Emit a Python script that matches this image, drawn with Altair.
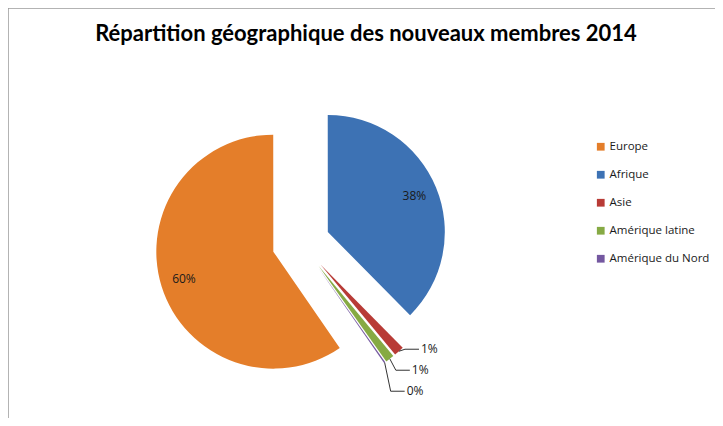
import altair as alt
import pandas as pd

# ---- data ----
regions = ["Europe", "Afrique", "Asie", "Amérique latine", "Amérique du Nord"]
shares = [59.6, 37.6, 1.4, 1.2, 0.2]
colors = ["#E47E2A", "#3D72B4", "#B83B36", "#86AA44", "#7458A0"]
title_text = "Répartition géographique des nouveaux membres 2014"

# ---- layout / style constants ----
W, H = 707, 410
CX, CY = 293, 235          # pie centre (px)
R = 117                    # pie radius
D = 29                     # explosion distance
LR = 0.8 * R               # inner label radius
START = 145.4 * 3.141592653589793 / 180  # first-slice angle (rad)
FONT = "Open Sans"

df = pd.DataFrame({"region": regions, "value": shares, "idx": list(range(len(regions)))})

base = (
    alt.Chart(df)
    .transform_joinaggregate(total="sum(value)")
    .transform_window(cum="sum(value)", sort=[alt.SortField("idx")], frame=[None, 0])
    .transform_calculate(
        t1=f"{START} + 2*PI*datum.cum/datum.total",
    )
    .transform_calculate(
        t0="datum.t1 - 2*PI*datum.value/datum.total",
        pct="format(datum.value/datum.total, '.0%')",
    )
    .transform_calculate(tm="(datum.t0 + datum.t1)/2")
    .transform_calculate(
        cx=f"{CX} + {D}*sin(datum.tm)",
        cy=f"{CY} - {D}*cos(datum.tm)",
    )
    .transform_calculate(
        lx=f"datum.cx + {LR}*sin(datum.tm)",
        ly=f"datum.cy - {LR}*cos(datum.tm)",
        p0x=f"datum.cx + {R}*sin(datum.tm)",
        p0y=f"datum.cy - {R}*cos(datum.tm)",
    )
)

color_enc = alt.Color(
    "region:N",
    scale=alt.Scale(domain=regions, range=colors),
    sort=regions,
    legend=alt.Legend(
        orient="none", legendX=587, legendY=133, title=None,
        symbolType="square", symbolSize=60, symbolStrokeWidth=0,
        labelFont=FONT, labelFontSize=11.5, labelColor="#1a1a1a",
        rowPadding=15, labelOffset=3,
    ),
)

arcs = base.mark_arc(radius=R, stroke=None).encode(
    theta=alt.Theta("t0:Q", scale=None, stack=False),
    theta2="t1:Q",
    x=alt.X("cx:Q", scale=None),
    y=alt.Y("cy:Q", scale=None),
    color=color_enc,
)

inner = base.transform_filter("datum.value >= 5").mark_text(
    font=FONT, fontSize=12, color="#1a1a1a"
).encode(
    x=alt.X("lx:Q", scale=None),
    y=alt.Y("ly:Q", scale=None),
    text="pct:N",
)

small = (
    base.transform_filter("datum.value < 5")
    .transform_window(rk="row_number()", sort=[alt.SortField("idx")])
    .transform_joinaggregate(miny="min(p0y)")
    .transform_calculate(
        ty="datum.miny - 2 + (datum.rk - 1)*21",
        tx="datum.p0x + 22",
    )
    .transform_calculate(ex="datum.p0x + 6", endx="datum.tx - 2")
)

lead1 = small.mark_rule(color="#333333", strokeWidth=1).encode(
    x=alt.X("p0x:Q", scale=None), y=alt.Y("p0y:Q", scale=None),
    x2="ex:Q", y2="ty:Q",
)
lead2 = small.mark_rule(color="#333333", strokeWidth=1).encode(
    x=alt.X("ex:Q", scale=None), y=alt.Y("ty:Q", scale=None),
    x2="endx:Q", y2="ty:Q",
)
outer = small.mark_text(font=FONT, fontSize=12, color="#1a1a1a", align="left").encode(
    x=alt.X("tx:Q", scale=None), y=alt.Y("ty:Q", scale=None), text="pct:N",
)

dummy = alt.Chart(pd.DataFrame({"a": [0]}))
title = dummy.mark_text(
    text=title_text, font="Lato", fontSize=22, fontWeight="bold",
    color="#000000", baseline="alphabetic",
).encode(x=alt.value(358), y=alt.value(33))

frame_top = dummy.mark_rule(color="#8a8a8a").encode(
    x=alt.value(0), x2=alt.value(W), y=alt.value(0)
)
frame_left = dummy.mark_rule(color="#8a8a8a").encode(
    x=alt.value(0), y=alt.value(0), y2=alt.value(H)
)

chart = (
    alt.layer(frame_top, frame_left, arcs, lead1, lead2, inner, outer, title)
    .properties(width=W, height=H, autosize=alt.AutoSizeParams(type="none"), padding=0)
    .configure_view(stroke=None)
    .configure(background="white")
)

chart.save("out.html", embed_options={"renderer": "svg", "actions": False})
